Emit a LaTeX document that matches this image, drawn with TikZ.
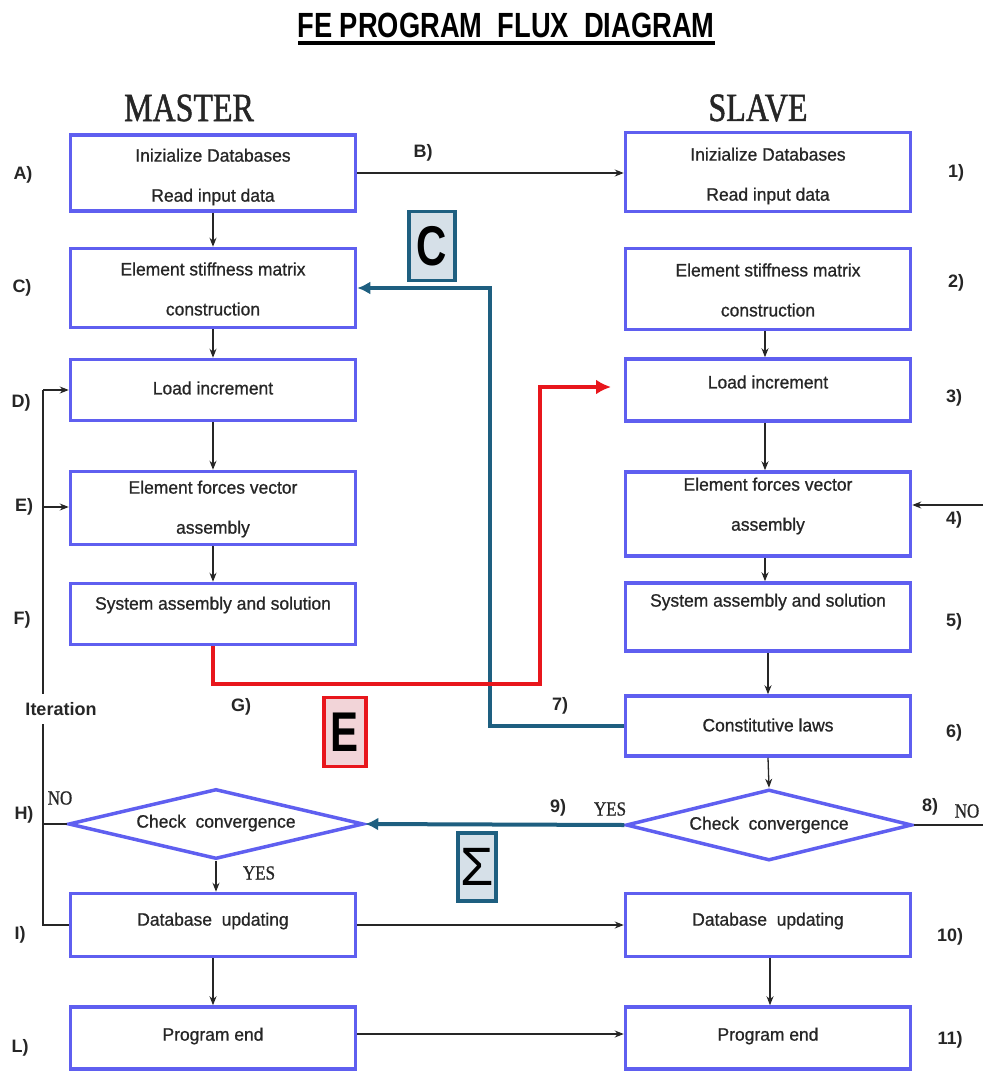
\documentclass[tikz,border=0pt]{standalone}
\usepackage{fontspec}
\setmainfont{Liberation Sans}
\newfontfamily\boxf[FakeBold=0.9,FakeStretch=0.97]{Liberation Sans}
\newfontfamily\serifn[FakeStretch=0.85,FakeBold=0.8]{Liberation Serif}
\newfontfamily\headf[FakeStretch=0.8,FakeBold=1.2]{Liberation Serif}
\newfontfamily\titlef[FakeStretch=0.78]{Liberation Sans}
\newfontfamily\bigf[FakeStretch=0.75]{Liberation Sans}
\usetikzlibrary{arrows.meta,shapes.geometric}
\definecolor{boxblue}{RGB}{95,95,240}
\definecolor{tealc}{RGB}{30,95,128}
\definecolor{redc}{RGB}{232,22,28}
\definecolor{txtc}{RGB}{38,38,38}
\definecolor{cfill}{RGB}{214,224,232}
\definecolor{efill}{RGB}{242,212,216}
\tikzset{
  box/.style={draw=boxblue,line width=3.5pt,inner sep=0pt,minimum width=285pt},
  dia/.style={diamond,draw=boxblue,line width=3.5pt,inner sep=0pt,aspect=4},
  btext/.style={font=\boxf\fontsize{18}{40}\selectfont,text=txtc,align=center,inner sep=0pt},
  lab/.style={font=\fontsize{18}{20}\selectfont\bfseries,text=txtc,inner sep=1pt},
  yn/.style={font=\serifn\fontsize{20}{22}\selectfont,text=txtc,inner sep=0pt},
  head/.style={font=\headf\fontsize{40}{44}\selectfont,text=txtc},
  flow/.style={draw=txtc,line width=1.3pt,-{Stealth[length=9pt,width=7pt]}},
  plain/.style={draw=txtc,line width=1.3pt},
  tealline/.style={draw=tealc,line width=4pt,line join=miter},
  redline/.style={draw=redc,line width=4pt,line join=miter},
  tag/.style={line width=3.5pt,inner sep=0pt,font=\bigf\fontsize{56}{60}\selectfont\bfseries,text=black}
}
\begin{document}
\begin{tikzpicture}[x=1pt,y=-1pt]
\useasboundingbox (0,0) rectangle (983,1073);
% title
\node[font=\titlef\fontsize{35}{40}\selectfont\bfseries,text=black] (title) at (506,25) {FE PROGRAM\ \ FLUX\ \ DIAGRAM};
\coordinate (ul1) at (298,43);
\coordinate (ul2) at (715,43);
\draw[line width=3.5pt,black] (ul1) -- (ul2);
\node[head] (master) at (189,108) {MASTER};
\node[head] (slave) at (758,108) {SLAVE};

% master boxes
\node[box,minimum height=76pt] (mA) at (213,173) {};
\node[box,minimum height=79pt] (mC) at (213,288) {};
\node[box,minimum height=61pt] (mD) at (213,390) {};
\node[box,minimum height=73pt] (mE) at (213,508) {};
\node[box,minimum height=61pt] (mF) at (213,614) {};
\node[dia,minimum width=295pt,minimum height=70pt] (mH) at (216,824) {};
\node[box,minimum height=63pt] (mI) at (213,925) {};
\node[box,minimum height=62pt] (mL) at (213,1038) {};

% slave boxes
\node[box,minimum height=79pt] (sA) at (768,172) {};
\node[box,minimum height=81pt] (sC) at (768,289) {};
\node[box,minimum height=62pt] (sD) at (768,390) {};
\node[box,minimum height=84pt] (sE) at (768,514) {};
\node[box,minimum height=68pt] (sF) at (768,617) {};
\node[box,minimum height=60pt] (sG) at (768,726) {};
\node[dia,minimum width=286pt,minimum height=71pt] (sH) at (769,825) {};
\node[box,minimum height=63pt] (sI) at (768,925) {};
\node[box,minimum height=62pt] (sL) at (768,1038) {};

% box texts
\node[btext] (tmA) at (213,177) {Inizialize Databases\\Read input data};
\node[btext] (tmC) at (213,289) {Element stiffness matrix\\construction};
\node[btext] (tmD) at (213,388) {Load increment};
\node[btext] (tmE) at (213,509) {Element forces vector\\assembly};
\node[btext] (tmF) at (213,605) {System assembly and solution};
\node[btext] (tmH) at (216,823) {Check\ \ convergence};
\node[btext] (tmI) at (213,921) {Database\ \ updating};
\node[btext] (tmL) at (213,1036) {Program end};

\node[btext] (tsA) at (768,176) {Inizialize Databases\\Read input data};
\node[btext] (tsC) at (768,290) {Element stiffness matrix\\construction};
\node[btext] (tsD) at (768,382) {Load increment};
\node[btext] (tsE) at (768,506) {Element forces vector\\assembly};
\node[btext] (tsF) at (768,602) {System assembly and solution};
\node[btext] (tsG) at (768,725) {Constitutive laws};
\node[btext] (tsH) at (769,825) {Check\ \ convergence};
\node[btext] (tsI) at (768,921) {Database\ \ updating};
\node[btext] (tsL) at (768,1036) {Program end};

% labels left
\node[lab] (lA) at (23,175) {A)};
\node[lab] (lB) at (423,153) {B)};
\node[lab] (lC) at (22,288) {C)};
\node[lab] (lD) at (21,403) {D)};
\node[lab] (lE) at (24,507) {E)};
\node[lab] (lF) at (22,620) {F)};
\node[lab] (lG) at (241,707) {G)};
\node[lab] (lH) at (24,815) {H)};
\node[lab] (lI) at (20,935) {I)};
\node[lab] (lL) at (20,1048) {L)};
% labels right
\node[lab] (r1) at (956,173) {1)};
\node[lab] (r2) at (956,283) {2)};
\node[lab] (r3) at (954,398) {3)};
\node[lab] (r4) at (954,520) {4)};
\node[lab] (r5) at (954,622) {5)};
\node[lab] (r6) at (954,733) {6)};
\node[lab] (r7) at (560,706) {7)};
\node[lab] (r8) at (930,807) {8)};
\node[lab] (r9) at (558,808) {9)};
\node[lab] (r10) at (950,937) {10)};
\node[lab] (r11) at (950,1040) {11)};
\node[yn] (noL) at (60,798) {NO};
\node[yn] (yesL) at (259,873) {YES};
\node[yn] (yesR) at (610,809) {YES};
\node[yn] (noR) at (967,811) {NO};

% master flow
\draw[flow] (mA) -- (mC);
\draw[flow] (mC) -- (mD);
\draw[flow] (mD) -- (mE);
\draw[flow] (mE) -- (mF);
\draw[flow] (mH.south) -- (mI.north -| mH.south);
\draw[flow] (mI) -- (mL);
% slave flow
\draw[flow] (sC.south -| 765,0) -- (sD.north -| 765,0);
\draw[flow] (sD.south -| 765,0) -- (sE.north -| 765,0);
\draw[flow] (sE.south -| 765,0) -- (sF.north -| 765,0);
\draw[flow] (sF.south) -- (sG.north);
\draw[flow] (sG.south) -- (sH.north);
\draw[flow] (sI.south -| 770,0) -- (sL.north -| 770,0);
% cross arrows
\draw[flow] (mA.east) -- (mA.east -| sA.west);
\draw[flow] (mI.east) -- (mI.east -| sI.west);
\draw[flow] ([yshift=4pt]mL.east) -- ([yshift=4pt]mL.east -| sL.west);
\coordinate (in4) at (983,505);
\draw[flow] (in4) -- (in4 -| sE.east);
\coordinate (out8) at (983,825);
\draw[plain] (sH.east) -- (out8);

% iteration loop
\coordinate (itTop) at (43,390);
\coordinate (itE) at (43,507);
\coordinate (itBot) at (43,925);
\draw[plain] (mI.west) -- (itBot) -- (itTop);
\draw[plain] (mH.west) -- (mH.west -| itBot);
\draw[flow] (itTop) -- (itTop -| mD.west);
\draw[flow] (itE) -- (itE -| mE.west);
\node[lab,fill=white,inner ysep=8pt,inner xsep=0pt] (iter) at (61,709) {Iteration};

% teal C connector
\coordinate (cTop) at (490,288);
\draw[tealline,-{Latex[length=13pt,width=13pt]}] (sG.west) -| (cTop) -- (mC.east);
% red E connector
\coordinate (rr1) at (540,684);
\coordinate (rr2) at (540,387);
\coordinate (rr3) at (611,387);
\draw[redline,-{Latex[length=15pt,width=15pt]}] (mF.south) |- (rr1) -- (rr2) -- (rr3);
% sigma connector
\draw[tealline,-{Latex[length=13pt,width=13pt]}] (sH.west) -- (mH.east);

% tag boxes
\node[tag,draw=tealc,fill=cfill,minimum width=46pt,minimum height=69pt] (tagC) at (432,246) {C};
\node[tag,draw=redc,fill=efill,minimum width=42pt,minimum height=69pt] (tagE) at (345,732) {E};
\node[tag,draw=tealc,fill=cfill,minimum width=38pt,minimum height=68pt,font=\fontsize{54}{58}\selectfont] (tagS) at (477,867) {Σ};
\end{tikzpicture}
\end{document}
